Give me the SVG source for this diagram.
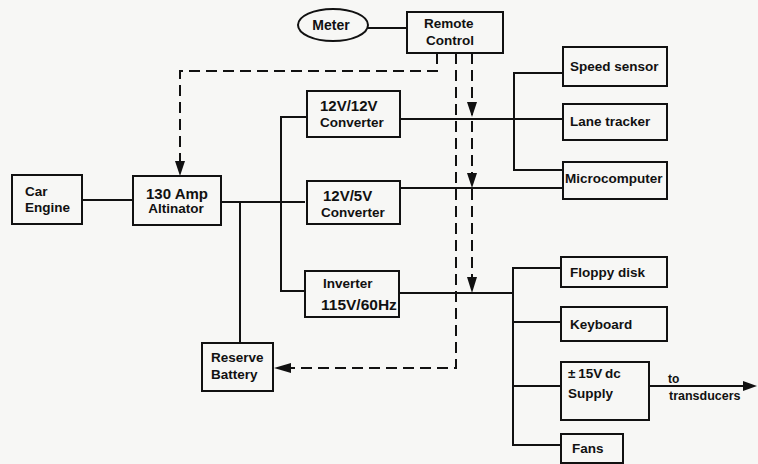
<svg xmlns="http://www.w3.org/2000/svg" width="758" height="464" viewBox="0 0 758 464">
<defs>
<style>
.box{fill:none;stroke:#111;stroke-width:2}
.ln{fill:none;stroke:#111;stroke-width:2}
.dl{fill:none;stroke:#111;stroke-width:2;stroke-dasharray:11 6}
.ah{fill:#111}
text{font-family:"Liberation Sans",Arial,sans-serif;font-weight:bold;font-size:13.5px;fill:#111}
.n{font-size:15px}
.c{text-anchor:middle}
</style>
</defs>
<rect width="758" height="464" fill="#f7f7f5"/>
<g id="connectors">
<line class="ln" x1="368" y1="28" x2="407" y2="28"/>
<line class="ln" x1="82" y1="200" x2="133" y2="200"/>
<polyline class="ln" points="221,202 305,202"/>
<line class="ln" x1="240" y1="202" x2="240" y2="343"/>
<polyline class="ln" points="307,117 281,117 281,291 305,291"/>
<line class="ln" x1="400" y1="119" x2="563" y2="119"/>
<polyline class="ln" points="563,73 514,73 514,170 563,170"/>
<line class="ln" x1="400" y1="188" x2="563" y2="188"/>
<line class="ln" x1="399" y1="293" x2="513" y2="293"/>
<polyline class="ln" points="561,268 513,268 513,445 561,445"/>
<line class="ln" x1="513" y1="322" x2="561" y2="322"/>
<line class="ln" x1="513" y1="386" x2="561" y2="386"/>
<line class="ln" x1="649" y1="386" x2="745" y2="386"/>
<polygon class="ah" points="757,386 743,381 743,391"/>
<polyline class="dl" points="437,53 437,71 180,71 180,164"/>
<polygon class="ah" points="180,176 175,161 185,161"/>
<line class="dl" x1="472" y1="53" x2="472" y2="282"/>
<polygon class="ah" points="472,117 467,102 477,102"/>
<polygon class="ah" points="472,188 467,173 477,173"/>
<polygon class="ah" points="472,293 467,277 477,277"/>
<polyline class="dl" points="456,53 456,368 288,368"/>
<polygon class="ah" points="274,368 291,363 291,373"/>
</g>
<g id="meter"><ellipse class="box" cx="333" cy="25" rx="35" ry="16"/><text class="c" x="331" y="30" style="font-size:14px">Meter</text></g>
<g id="remote"><rect class="box" x="407" y="12" width="96" height="41"/><text x="424" y="28">Remote</text><text x="426" y="45">Control</text></g>
<g id="engine"><rect class="box" x="12" y="175" width="70" height="49"/><text x="25" y="196">Car</text><text x="25" y="212">Engine</text></g>
<g id="alternator"><rect class="box" x="133" y="176" width="88" height="49"/><text class="c n" x="177" y="199">130 Amp</text><text class="c" x="176" y="213">Altinator</text></g>
<g id="conv12"><rect class="box" x="307" y="91" width="93" height="46"/><text class="n" x="320" y="111">12V/12V</text><text x="320" y="127">Converter</text></g>
<g id="conv5"><rect class="box" x="307" y="181" width="93" height="43"/><text class="n" x="323" y="201">12V/5V</text><text x="321" y="217">Converter</text></g>
<g id="inverter"><rect class="box" x="305" y="271" width="94" height="46"/><text x="323" y="288">Inverter</text><text x="321" y="310" style="font-size:15.5px">115V/60Hz</text></g>
<g id="battery"><rect class="box" x="202" y="343" width="71" height="48"/><text x="211" y="362">Reserve</text><text x="211" y="379">Battery</text></g>
<g id="speed"><rect class="box" x="563" y="47" width="104" height="39"/><text x="570" y="71">Speed sensor</text></g>
<g id="lane"><rect class="box" x="563" y="104" width="104" height="36"/><text x="570" y="126">Lane tracker</text></g>
<g id="micro"><rect class="box" x="563" y="162" width="104" height="37"/><text x="565" y="183">Microcomputer</text></g>
<g id="floppy"><rect class="box" x="561" y="257" width="106" height="30"/><text x="570" y="277">Floppy disk</text></g>
<g id="keyboard"><rect class="box" x="561" y="307" width="106" height="34"/><text x="570" y="329">Keyboard</text></g>
<g id="supply"><rect class="box" x="561" y="362" width="88" height="58"/><text x="568" y="378" style="word-spacing:-1px">± 15V dc</text><text x="568" y="398">Supply</text></g>
<g id="fans"><rect class="box" x="561" y="434" width="62" height="29"/><text x="572" y="453">Fans</text></g>
<g id="label"><text x="668" y="383" style="font-size:12px">to</text><text x="669" y="400" style="font-size:12.5px">transducers</text></g>
</svg>
